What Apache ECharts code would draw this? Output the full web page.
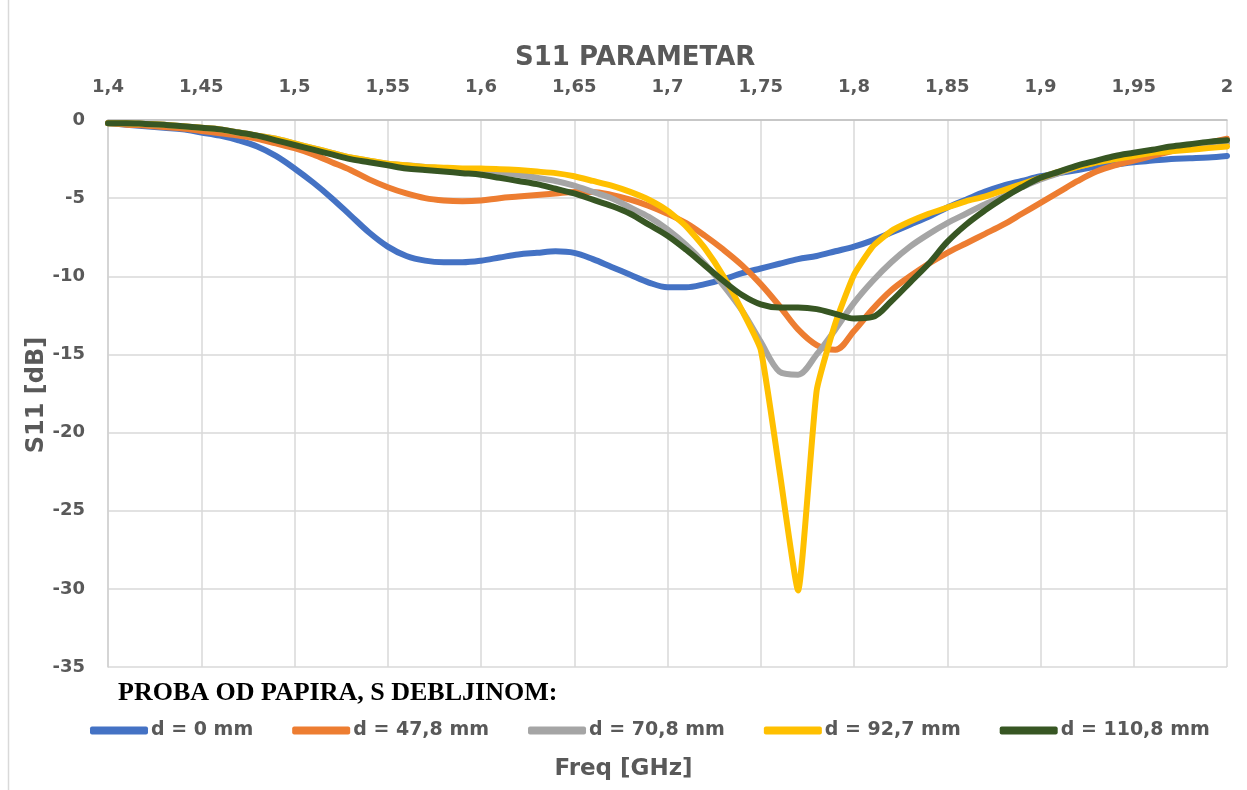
<!DOCTYPE html>
<html>
<head>
<meta charset="utf-8">
<title>S11 PARAMETAR</title>
<script src="https://cdn.jsdelivr.net/npm/echarts@6/dist/echarts.min.js"></script>
<style>
  html, body { margin: 0; padding: 0; background: #fff; }
  #chart { width: 1247px; height: 790px; }
</style>
</head>
<body>
<div id="chart"></div>
<script>
// frekvencija [GHz]
const freq = [
  1.40, 1.41, 1.42, 1.43, 1.44, 1.45, 1.46, 1.47, 1.48, 1.49,
  1.50, 1.51, 1.52, 1.53, 1.54, 1.55, 1.56, 1.57, 1.58, 1.59,
  1.60, 1.61, 1.62, 1.63, 1.64, 1.65, 1.66, 1.67, 1.68, 1.69,
  1.70, 1.71, 1.72, 1.73, 1.74, 1.75, 1.76, 1.77, 1.78, 1.79,
  1.80, 1.81, 1.82, 1.83, 1.84, 1.85, 1.86, 1.87, 1.88, 1.89,
  1.90, 1.91, 1.92, 1.93, 1.94, 1.95, 1.96, 1.97, 1.98, 1.99,
  2.00
]

// S11 [dB] za svaku debljinu
const d0 = [
  -0.2, -0.3, -0.4, -0.5, -0.6, -0.8, -1.0, -1.3, -1.7, -2.3,
  -3.1, -4.0, -5.0, -6.1, -7.2, -8.1, -8.7, -9.0, -9.1, -9.1,
  -9.0, -8.8, -8.6, -8.5, -8.4, -8.5, -8.9, -9.4, -9.9, -10.4,
  -10.7, -10.7, -10.5, -10.2, -9.8, -9.5, -9.2, -8.9, -8.7, -8.4,
  -8.1, -7.7, -7.2, -6.7, -6.2, -5.6, -5.1, -4.6, -4.2, -3.9,
  -3.6, -3.4, -3.2, -3.0, -2.85, -2.7, -2.6, -2.5, -2.45, -2.4,
  -2.3
]
const d47 = [
  -0.2, -0.3, -0.35, -0.45, -0.55, -0.7, -0.85, -1.0, -1.2, -1.5,
  -1.8, -2.2, -2.7, -3.2, -3.8, -4.3, -4.7, -5.0, -5.15, -5.2,
  -5.15, -5.0, -4.9, -4.8, -4.7, -4.6, -4.6, -4.8, -5.1, -5.5,
  -6.0, -6.6, -7.4, -8.3, -9.3, -10.5, -11.9, -13.4, -14.4, -14.7,
  -13.5, -12.1, -10.9, -10.0, -9.2, -8.5, -7.9, -7.3, -6.7, -6.0,
  -5.3, -4.6, -3.9, -3.3, -2.9, -2.6, -2.3, -2.0, -1.7, -1.45,
  -1.2
]
const d70 = [
  -0.2, -0.2, -0.25, -0.3, -0.4, -0.5, -0.6, -0.8, -1.0, -1.2,
  -1.5, -1.8, -2.1, -2.4, -2.6, -2.8, -2.9, -3.0, -3.1, -3.2,
  -3.3, -3.4, -3.5, -3.7, -3.9, -4.2, -4.6, -5.0, -5.6, -6.2,
  -7.0, -8.0, -9.2, -10.6, -12.2, -14.2, -16.1, -16.3, -15.0, -13.4,
  -11.7, -10.3, -9.1, -8.1, -7.3, -6.6, -6.0, -5.4, -4.9, -4.3,
  -3.8, -3.4, -3.0, -2.7, -2.4, -2.2, -2.0, -1.85, -1.7, -1.6,
  -1.5
]
const d92 = [
  -0.2, -0.2, -0.25, -0.3, -0.4, -0.5, -0.6, -0.8, -1.0, -1.2,
  -1.5, -1.8, -2.1, -2.4, -2.6, -2.8, -2.9, -3.0, -3.05, -3.1,
  -3.1, -3.15, -3.2, -3.3, -3.4, -3.6, -3.9, -4.2, -4.6, -5.1,
  -5.8, -6.8, -8.2, -10.0, -12.2, -14.7, -22.4, -30.1, -17.3, -13.0,
  -9.9, -8.1, -7.1, -6.5, -6.0, -5.6, -5.2, -4.9, -4.5, -4.1,
  -3.7, -3.3, -3.0, -2.7, -2.5, -2.3, -2.1, -2.0, -1.9, -1.8,
  -1.7
]
const d110 = [
  -0.2, -0.2, -0.25, -0.3, -0.4, -0.5, -0.6, -0.8, -1.0, -1.3,
  -1.6, -1.9, -2.2, -2.5, -2.7, -2.9, -3.1, -3.2, -3.3, -3.4,
  -3.5, -3.7, -3.9, -4.1, -4.4, -4.7, -5.1, -5.5, -6.0, -6.7,
  -7.4, -8.3, -9.3, -10.3, -11.2, -11.8, -12.0, -12.0, -12.1, -12.4,
  -12.7, -12.6, -11.6, -10.4, -9.2, -7.8, -6.7, -5.8, -5.0, -4.3,
  -3.7, -3.3, -2.9, -2.6, -2.3, -2.1, -1.9, -1.7, -1.55, -1.4,
  -1.3
]

const names = ['d = 0 mm', 'd = 47,8 mm', 'd = 70,8 mm', 'd = 92,7 mm', 'd = 110,8 mm']
const colors = ['#4472C4', '#ED7D31', '#A5A5A5', '#FFC000', '#375623']
const values = [d0, d47, d70, d92, d110]
// zuta kriva ima ostar vrh, manje zaglađivanja
const smoothing = [0.35, 0.35, 0.3, 0.15, 0.35]

const gray = '#595959'
const font = 'DejaVu Sans'

let chart = echarts.init(document.getElementById('chart'))

let option = {
  animation: false,
  backgroundColor: '#fff',
  color: colors,
  title: [
    {
      text: 'S11 PARAMETAR',
      left: 510,
      top: 40,
      textStyle: {fontFamily: font, fontSize: 26, fontWeight: 'bold', color: gray}
    },
    {
      text: 'Freq [GHz]',
      left: 'center',
      top: 753,
      textStyle: {fontFamily: font, fontSize: 23, fontWeight: 'bold', color: gray}
    }
  ],
  grid: {
    left: 108,
    right: 20,
    top: 120,
    bottom: 123
  },
  legend: {
    left: 85,
    top: 716,
    icon: 'roundRect',
    itemWidth: 58,
    itemHeight: 8,
    itemGap: 39,
    textStyle: {fontFamily: font, fontSize: 19, fontWeight: 'bold', color: gray, padding: [0, 0, 0, -2]},
    data: names
  },
  xAxis: {
    type: 'value',
    position: 'top',
    min: 1.4,
    max: 2,
    interval: 0.05,
    axisLine: {show: true, lineStyle: {color: '#bfbfbf', width: 1.5}},
    axisTick: {show: false},
    axisLabel: {
      margin: 24,
      fontFamily: font,
      fontSize: 18,
      fontWeight: 'bold',
      color: gray,
      formatter: v => String(Math.round(v * 100) / 100).replace('.', ',')
    },
    splitLine: {show: true, lineStyle: {color: '#d9d9d9', width: 1.5}}
  },
  yAxis: {
    type: 'value',
    min: -35,
    max: 0,
    interval: 5,
    axisLine: {show: true, lineStyle: {color: '#d0d0d0', width: 1.5}},
    axisTick: {show: false},
    axisLabel: {
      margin: 23,
      fontFamily: font,
      fontSize: 18,
      fontWeight: 'bold',
      color: gray
    },
    splitLine: {show: true, lineStyle: {color: '#d9d9d9', width: 1.5}}
  },
  graphic: [
    {
      type: 'line',
      shape: {x1: 8.5, y1: 0, x2: 8.5, y2: 790},
      style: {stroke: '#d9d9d9', lineWidth: 1.5}
    },
    {
      type: 'text',
      x: 37,
      y: 395,
      rotation: Math.PI / 2,
      style: {
        text: 'S11 [dB]',
        font: 'bold 24px "DejaVu Sans"',
        fill: gray,
        textAlign: 'center',
        textVerticalAlign: 'middle'
      }
    },
    {
      type: 'text',
      left: 118,
      top: 680,
      style: {
        text: 'PROBA OD PAPIRA, S DEBLJINOM:',
        font: 'bold 26px "Liberation Serif"',
        fill: '#000'
      }
    }
  ],
  series: names.map((n, i) => ({
    name: n,
    type: 'line',
    smooth: smoothing[i],
    symbol: 'none',
    lineStyle: {width: 6, color: colors[i], cap: 'round', join: 'round'},
    itemStyle: {color: colors[i]},
    data: freq.map((f, k) => [f, values[i][k]])
  }))
}

chart.setOption(option)
</script>
</body>
</html>
